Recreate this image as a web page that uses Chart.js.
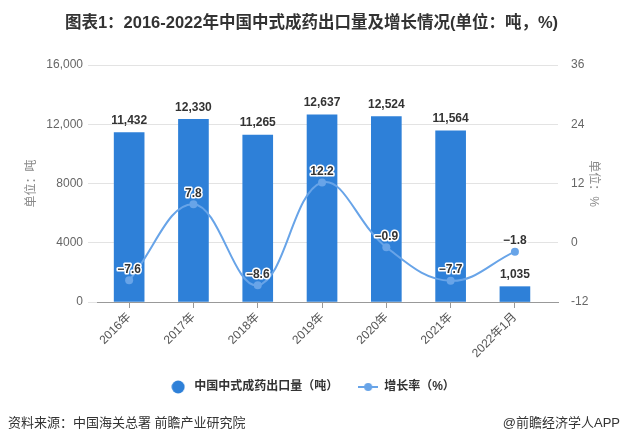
<!DOCTYPE html>
<html>
<head>
<meta charset="utf-8">
<script src="https://cdn.jsdelivr.net/npm/chart.js@4.4.1/dist/chart.umd.min.js"></script>
<style>
  html, body { margin: 0; padding: 0; background: #fff; }
  body { width: 623px; height: 441px; position: relative; overflow: hidden;
         font-family: "Liberation Sans", "Noto Sans CJK SC", sans-serif; }
  #title { position: absolute; left: 0; width: 623px; top: 9px; text-align: center;
           font-size: 16.5px; font-weight: bold; color: #333; }
  #source { position: absolute; left: 8px; top: 412px; font-size: 13px; color: #333; }
  #brand { position: absolute; right: 3px; top: 412px; font-size: 13px; color: #333; }
  #chart { position: absolute; left: 0; top: 0; }
</style>
</head>
<body>
<canvas id="chart" width="623" height="441"></canvas>
<div id="title">图表1：2016-2022年中国中式成药出口量及增长情况(单位：吨，%)</div>
<div id="source">资料来源：中国海关总署 前瞻产业研究院</div>
<div id="brand">@前瞻经济学人APP</div>
<script>
const categories = ['2016年', '2017年', '2018年', '2019年', '2020年', '2021年', '2022年1月'];
const exportVolume = [11432, 12330, 11265, 12637, 12524, 11564, 1035];
const growthRate = [-7.6, 7.8, -8.6, 12.2, -0.9, -7.7, -1.8];
const leftTicks = [0, 4000, 8000, 12000, 16000];
const rightTicks = [-12, 0, 12, 24, 36];

const barColor = '#2e80d8';
const lineColor = '#68a4e8';
const fontFamily = '"Liberation Sans", "Noto Sans CJK SC", sans-serif';

// legend icons
function circleIcon() {
    const c = document.createElement('canvas');
    c.width = 14; c.height = 14;
    const g = c.getContext('2d');
    g.fillStyle = barColor;
    g.beginPath(); g.arc(7, 7, 6.5, 0, Math.PI * 2); g.fill();
    return c;
}
function lineIcon() {
    const c = document.createElement('canvas');
    c.width = 20; c.height = 10;
    const g = c.getContext('2d');
    g.strokeStyle = lineColor; g.lineWidth = 2;
    g.beginPath(); g.moveTo(0, 5); g.lineTo(20, 5); g.stroke();
    g.fillStyle = lineColor;
    g.beginPath(); g.arc(10, 5, 4, 0, Math.PI * 2); g.fill();
    return c;
}

const fmt = v => v >= 10000 ? v.toLocaleString('en-US') : String(v);
const minus = v => (v < 0 ? '\u2212' + Math.abs(v) : String(v));

const valueLabels = {
    id: 'valueLabels',
    afterDatasetsDraw(chart) {
        const ctx = chart.ctx;
        ctx.save();
        ctx.textAlign = 'center';
        ctx.textBaseline = 'middle';
        ctx.font = 'bold 12px ' + fontFamily;
        chart.getDatasetMeta(0).data.forEach((bar, i) => {
            ctx.fillStyle = '#333';
            ctx.fillText(exportVolume[i].toLocaleString('en-US'), bar.x, bar.y - 12);
        });
        chart.getDatasetMeta(1).data.forEach((pt, i) => {
            const t = minus(growthRate[i]);
            ctx.lineWidth = 3;
            ctx.lineJoin = 'round';
            ctx.strokeStyle = '#fff';
            ctx.strokeText(t, pt.x, pt.y - 11);
            ctx.fillStyle = '#333';
            ctx.fillText(t, pt.x, pt.y - 11);
        });
        ctx.restore();
    }
};

new Chart(document.getElementById('chart'), {
    data: {
        datasets: [
            {
                type: 'bar',
                label: '中国中式成药出口量（吨）',
                data: exportVolume.map((v, i) => ({ x: i, y: v })),
                backgroundColor: barColor,
                barThickness: 30,
                yAxisID: 'y',
                order: 2,
            },
            {
                type: 'line',
                label: '增长率（%）',
                data: growthRate.map((v, i) => ({ x: i, y: v })),
                borderColor: lineColor,
                backgroundColor: lineColor,
                borderWidth: 2,
                pointRadius: 4,
                pointBorderWidth: 0,
                tension: 0.4,
                yAxisID: 'y1',
                order: 1,
            },
        ],
    },
    options: {
        responsive: false,
        animation: false,
        layout: { padding: { top: 65, left: 0, right: 0, bottom: 38 } },
        plugins: {
            tooltip: { enabled: false },
            legend: {
                position: 'bottom',
                labels: {
                    usePointStyle: true,
                    pointStyleWidth: 20,
                    padding: 20,
                    color: '#333',
                    font: { size: 12, weight: 'bold', family: fontFamily },
                    generateLabels: () => [
                        { text: '中国中式成药出口量（吨）', pointStyle: circleIcon(), datasetIndex: 0, fontColor: '#333' },
                        { text: '增长率（%）', pointStyle: lineIcon(), datasetIndex: 1, fontColor: '#333' },
                    ],
                },
            },
        },
        scales: {
            x: {
                type: 'linear',
                offset: false,
                min: -0.5,
                max: 6.67,
                afterBuildTicks: s => { s.ticks = categories.map((_, i) => ({ value: i })); },
                afterFit: s => { s.height = 59; },
                ticks: {
                    autoSkip: false,
                    maxRotation: 45,
                    minRotation: 45,
                    padding: 2,
                    color: '#555',
                    font: { size: 12, family: fontFamily },
                    callback: (v, i) => categories[i],
                },
                grid: { offset: false, drawOnChartArea: false, drawTicks: true, tickLength: 6, color: '#999' },
                border: { color: '#999' },
            },
            y: {
                position: 'left',
                min: 0,
                max: 16000,
                afterBuildTicks: s => { s.ticks = leftTicks.map(v => ({ value: v })); },
                afterFit: s => { s.width = 97; },
                ticks: {
                    color: '#666',
                    padding: 5,
                    font: { size: 12, family: fontFamily },
                    callback: v => fmt(v),
                },
                grid: { color: '#e3e3e3', tickLength: 9 },
                border: { display: false },
                title: {
                    display: true,
                    text: '单位：吨',
                    color: '#888',
                    font: { size: 12, family: fontFamily },
                    padding: { top: 24, bottom: 0 },
                },
            },
            y1: {
                position: 'right',
                min: -12,
                max: 36,
                afterBuildTicks: s => { s.ticks = rightTicks.map(v => ({ value: v })); },
                afterFit: s => { s.width = 65; },
                ticks: {
                    color: '#666',
                    padding: 5,
                    font: { size: 12, family: fontFamily },
                },
                grid: { display: false },
                border: { display: false },
                title: {
                    display: true,
                    text: '单位：%',
                    color: '#888',
                    font: { size: 12, family: fontFamily },
                    padding: { top: 22, bottom: 0 },
                },
            },
        },
    },
    plugins: [valueLabels],
});
</script>
</body>
</html>
